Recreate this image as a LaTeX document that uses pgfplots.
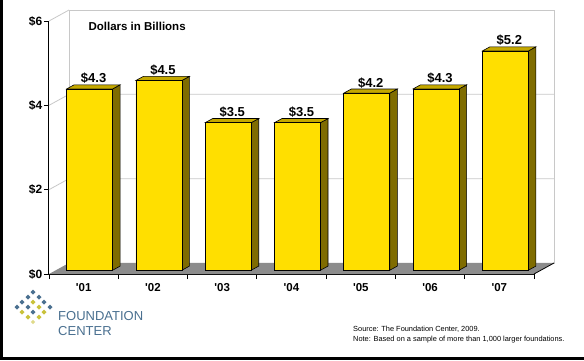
\documentclass[border=0pt]{standalone}
\usepackage{pgfplots}
\pgfplotsset{compat=1.18}
\usepackage{pgfplotstable}
\usepackage{fontspec}
\newfontfamily\arial{Liberation Sans}
\setmainfont{Liberation Sans}
\definecolor{barfront}{HTML}{FFDF00}
\definecolor{barside}{HTML}{7F6C00}
\definecolor{bartop}{HTML}{C4A800}
\definecolor{floorc}{HTML}{8C8C8C}
\definecolor{wallc}{HTML}{C8C8C8}
\definecolor{logoblue}{HTML}{4A7090}
\definecolor{logoyel}{HTML}{C9C23A}

\pgfplotstableread{
x v
0 4.3
1 4.5
2 3.5
3 3.5
4 4.2
5 4.3
6 5.2
}\givingdata

% side and top faces of a bar: #1 index, #2 value
\newcommand\barfaces[2]{%
 \pgfmathsetmacro\xl{#1+0.087-0.332}%
 \pgfmathsetmacro\xr{#1+0.087+0.332}%
 \pgfmathsetmacro\xrr{\xr+0.108}%
 \pgfmathsetmacro\xll{\xl+0.108}%
 \pgfmathsetmacro\yt{#2+0.09}%
 \pgfmathsetmacro\ytt{\yt+0.097}%
 \edef\tmp{\noexpand\addplot[fill=barside,draw=black,line width=0.6pt] coordinates {(\xr,0.09) (\xr,\yt) (\xrr,\ytt) (\xrr,0.187)} -- cycle;
 \noexpand\addplot[fill=bartop,draw=black,line width=0.6pt] coordinates {(\xl,\yt) (\xr,\yt) (\xrr,\ytt) (\xll,\ytt)} -- cycle;}%
 \tmp}

\newcommand\dotb[2]{\fill[logoblue] (#1,360-#2) +(0,2.5) -- +(2.5,0) -- +(0,-2.5) -- +(-2.5,0) -- cycle;}
\newcommand\doty[2]{\fill[logoyel] (#1,360-#2) +(0,2.5) -- +(2.5,0) -- +(0,-2.5) -- +(-2.5,0) -- cycle;}

\begin{document}
\begin{tikzpicture}[x=1pt,y=1pt]
\fill[white] (0,0) rectangle (584,360);
\fill[black] (0,0) rectangle (2.5,360);
\fill[black] (0,0) rectangle (584,3);
\begin{axis}[
  at={(49pt,86pt)}, anchor=south west,
  scale only axis, width=485pt, height=253pt,
  xmin=-0.5, xmax=6.5, ymin=0, ymax=6,
  clip=false, no markers,
  axis x line*=bottom, axis y line*=left,
  axis line style={black, line width=1pt},
  ytick={0,2,4,6}, yticklabels={\$0,\$2,\$4,\$6},
  yticklabel style={font=\arial\bfseries\fontsize{12}{13}\selectfont, inner sep=1.5pt},
  xtick={-0.5,0.5,...,6.5}, xticklabels={},
  tick align=outside, major tick length=5pt,
  tick style={black, line width=0.8pt},
  extra x ticks={0,1,2,3,4,5,6},
  extra x tick labels={'01,'02,'03,'04,'05,'06,'07},
  extra x tick style={major tick length=0pt, tick style={draw=none}},
  xticklabel style={font=\arial\bfseries\fontsize{11.5}{13}\selectfont, yshift=-6pt},
]
% back wall
\addplot[draw=wallc, fill=white, line width=0.8pt] coordinates {(-0.211,0.261) (6.789,0.261) (6.789,6.261) (-0.211,6.261)} -- cycle;
\addplot[wallc, line width=0.8pt] coordinates {(-0.5,2) (-0.211,2.261) (6.789,2.261)};
\addplot[wallc, line width=0.8pt] coordinates {(-0.5,4) (-0.211,4.261) (6.789,4.261)};
\addplot[wallc, line width=0.8pt] coordinates {(-0.5,6) (-0.211,6.261)};
% floor
\addplot[fill=floorc, draw=none] coordinates {(-0.5,0) (6.5,0) (6.789,0.261) (-0.211,0.261)} -- cycle;
\addplot[black, line width=0.8pt] coordinates {(6.5,0) (6.789,0.261)};
% bar faces
\barfaces{0}{4.3}
\barfaces{1}{4.5}
\barfaces{2}{3.5}
\barfaces{3}{3.5}
\barfaces{4}{4.2}
\barfaces{5}{4.3}
\barfaces{6}{5.2}
% front bars
\addplot[ybar, bar width=46pt, bar shift=6pt, yshift=3.8pt, fill=barfront, draw=black, line width=0.6pt,
  nodes near coords={\$\pgfmathprintnumber[fixed,fixed zerofill,precision=1,assume math mode=true]{\pgfplotspointmeta}},
  every node near coord/.append style={font=\arial\bfseries\fontsize{13}{14}\selectfont, anchor=base, xshift=10pt, yshift=6pt, text=black}]
  table[x=x, y=v] {\givingdata};
\end{axis}
% title inside chart
\node[anchor=base west, font=\arial\bfseries\fontsize{11.5}{13}\selectfont] at (85,330) {Dollars in Billions};
% logo
\dotb{33}{292}
\dotb{28}{297}\dotb{39}{297}
\dotb{22}{302}\doty{33}{302}\dotb{44}{302}
\dotb{17}{307}\dotb{28}{307}\doty{39}{307}\dotb{50}{307}
\doty{22}{312}\dotb{33}{312}\doty{44}{312}
\doty{28}{317}\doty{39}{317}
\fill[logoyel!60] (33,360-322) +(0,2.2) -- +(2.2,0) -- +(0,-2.2) -- +(-2.2,0) -- cycle;
\node[anchor=base west, inner sep=0pt, text=logoblue, font=\arial\fontsize{13}{13}\selectfont] at (58,40) {FOUNDATION};
\node[anchor=base west, inner sep=0pt, text=logoblue, font=\arial\fontsize{13}{13}\selectfont] at (58,25) {CENTER};
% source
\node[anchor=base west, inner sep=0pt, font=\arial\fontsize{7.4}{9}\selectfont] at (353,29) {Source: The Foundation Center, 2009.};
\node[anchor=base west, inner sep=0pt, font=\arial\fontsize{7.4}{9}\selectfont] at (353,19) {Note: Based on a sample of more than 1,000 larger foundations.};
\end{tikzpicture}
\end{document}
